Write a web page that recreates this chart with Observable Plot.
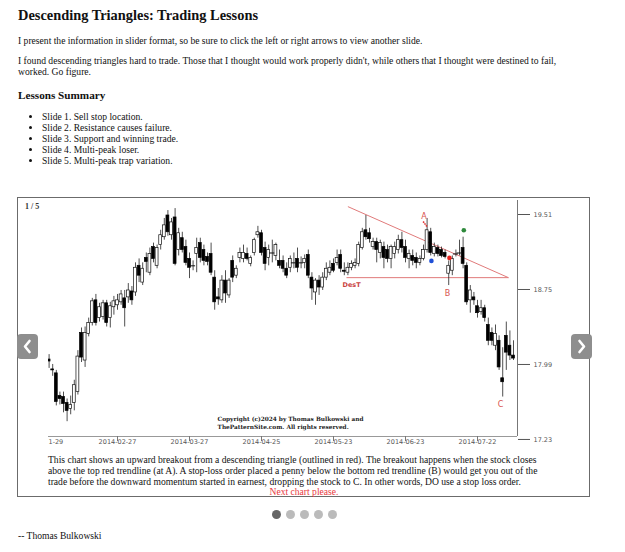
<!DOCTYPE html>
<html><head><meta charset="utf-8">
<script src="https://cdn.jsdelivr.net/npm/d3@7"></script>
<script src="https://cdn.jsdelivr.net/npm/@observablehq/plot@0.6"></script>
<style>
html,body{margin:0;padding:0;background:#fff;}
body{width:625px;height:552px;position:relative;font-family:"Liberation Serif","Times New Roman",serif;color:#111;overflow:hidden;}
.a{position:absolute;white-space:nowrap;}
.t{font-size:9.6px;line-height:11px;}
ul{position:absolute;left:18px;top:112.3px;margin:0;padding-left:24px;font-size:9.6px;line-height:10.9px;}
#frame{position:absolute;left:17px;top:197px;width:573px;height:300px;border:1.5px solid #6b6b6b;box-sizing:border-box;}
#chart{position:absolute;left:48px;top:198px;}
.btn{position:absolute;top:334px;width:21px;height:25px;background:#8e8e8e;border-radius:4px;}
.dot{position:absolute;top:509.5px;width:9px;height:9px;border-radius:50%;background:#bbb;}
</style></head><body>
<div class="a" style="left:18px;top:7.7px;font-size:14.4px;line-height:14.4px;font-weight:bold">Descending Triangles: Trading Lessons</div>
<div class="a t" style="left:18px;top:34.6px">I present the information in slider format, so be sure to click the left or right arrows to view another slide.</div>
<div class="a t" style="left:18px;top:54.6px">I found descending triangles hard to trade. Those that I thought would work properly didn't, while others that I thought were destined to fail,<br>worked. Go figure.</div>
<div class="a" style="left:18px;top:89.6px;font-size:11.2px;line-height:11.2px;font-weight:bold">Lessons Summary</div>
<ul>
<li>Slide 1. Sell stop location.</li>
<li>Slide 2. Resistance causes failure.</li>
<li>Slide 3. Support and winning trade.</li>
<li>Slide 4. Multi-peak loser.</li>
<li>Slide 5. Multi-peak trap variation.</li>
</ul>
<div id="frame"></div>
<div class="a" style="left:25px;top:203px;font-size:8px;line-height:8px;font-weight:bold;color:#333">1 / 5</div>
<div id="chart"></div>
<div class="btn" style="left:17px"><svg width="21" height="25"><polyline points="12.5,7 8,12.5 12.5,18" fill="none" stroke="#fff" stroke-width="2.6" stroke-linecap="round" stroke-linejoin="round"/></svg></div>
<div class="btn" style="left:571px"><svg width="21" height="25"><polyline points="8.5,7 13,12.5 8.5,18" fill="none" stroke="#fff" stroke-width="2.6" stroke-linecap="round" stroke-linejoin="round"/></svg></div>
<div class="a" style="left:48px;top:455px;font-size:9.6px;line-height:10.8px">This chart shows an upward breakout from a descending triangle (outlined in red). The breakout happens when the stock closes<br>above the top red trendline (at A). A stop-loss order placed a penny below the bottom red trendline (B) would get you out of the<br>trade before the downward momentum started in earnest, dropping the stock to C. In other words, DO use a stop loss order.</div>
<div class="a" style="left:204px;width:200px;text-align:center;top:487.4px;font-size:9.6px;line-height:10.8px;color:#e8383d">Next chart please.</div>
<div class="dot" style="left:271.5px;background:#666"></div>
<div class="dot" style="left:285.5px"></div>
<div class="dot" style="left:299.5px"></div>
<div class="dot" style="left:313.5px"></div>
<div class="dot" style="left:327.5px"></div>
<div class="a t" style="left:18px;top:530.3px">-- Thomas Bulkowski</div>
<script>
// Daily prices, bars for trading days 2014-01-30 .. 2014-08-05 (trading-day index 1..130 from 2014-01-29)
const firstIndex = 1;
const open = [18.04,17.94,17.90,17.67,17.66,17.60,17.54,17.60,17.71,18.31,18.03,18.30,18.41,18.64,18.46,18.47,18.61,18.46,18.57,18.59,18.62,18.66,18.67,18.73,18.72,18.99,18.82,19.07,18.92,19.18,18.99,19.20,19.28,19.50,19.30,19.48,19.15,19.27,19.18,19.06,18.99,19.11,19.22,19.15,19.08,19.11,18.87,18.67,18.64,18.84,18.69,19.04,18.89,19.07,19.06,19.11,19.01,19.12,19.30,19.32,19.17,19.07,19.12,19.09,19.04,19.04,18.96,18.97,19.02,19.06,19.02,19.02,19.10,18.87,18.72,18.84,18.77,18.87,18.92,19.01,19.02,19.10,18.94,18.92,18.97,18.99,19.01,19.17,19.35,19.32,19.18,19.23,19.12,19.18,19.15,19.06,19.11,19.15,19.25,19.18,19.06,19.09,19.07,19.02,19.06,19.15,19.33,19.11,19.17,19.15,19.12,18.91,18.94,19.11,19.12,19.17,18.99,18.64,18.67,18.58,18.52,18.56,18.39,18.31,18.18,18.23,17.85,18.28,18.18,18.08];
const high = [18.09,17.99,17.93,17.71,17.71,17.64,17.67,17.83,18.13,18.36,18.37,18.46,18.66,18.70,18.61,18.64,18.64,18.62,18.68,18.70,18.74,18.74,18.81,18.78,19.02,19.06,19.02,19.12,19.17,19.22,19.20,19.35,19.47,19.55,19.47,19.57,19.37,19.33,19.25,19.12,19.04,19.27,19.27,19.20,19.12,19.22,18.94,18.76,18.89,18.94,18.86,19.09,18.99,19.17,19.20,19.17,19.09,19.27,19.39,19.35,19.23,19.20,19.25,19.22,19.15,19.09,19.02,19.09,19.12,19.17,19.08,19.10,19.15,18.92,18.86,18.89,18.92,19.02,19.04,19.06,19.15,19.15,19.02,19.02,19.04,19.06,19.23,19.37,19.50,19.37,19.27,19.27,19.25,19.23,19.20,19.20,19.23,19.30,19.33,19.25,19.15,19.15,19.12,19.09,19.20,19.47,19.37,19.22,19.20,19.18,19.15,19.04,19.09,19.15,19.25,19.28,19.02,18.79,18.72,18.64,18.64,18.59,18.46,18.36,18.39,18.28,18.16,18.42,18.33,18.23];
const low = [17.95,17.87,17.57,17.58,17.50,17.41,17.48,17.52,17.68,18.01,17.96,18.27,18.38,18.38,18.42,18.44,18.37,18.36,18.49,18.54,18.59,18.37,18.61,18.59,18.68,18.82,18.79,18.92,18.89,19.02,18.96,19.15,19.25,19.29,19.25,18.99,19.09,19.12,18.99,18.86,18.94,18.92,19.02,18.99,18.99,18.89,18.54,18.59,18.61,18.61,18.66,18.82,18.86,19.02,19.02,19.04,18.98,19.09,19.27,19.09,18.94,18.99,19.02,19.04,18.96,18.92,18.86,18.92,18.96,18.92,18.96,18.96,18.86,18.64,18.59,18.69,18.74,18.84,18.89,18.92,18.99,18.92,18.89,18.89,18.94,18.96,18.98,19.15,19.25,19.22,19.15,19.02,19.06,18.96,19.02,18.96,19.06,19.11,19.12,19.02,18.96,18.99,18.96,18.99,19.04,19.12,19.09,19.08,19.08,19.07,19.06,18.79,18.89,19.08,19.09,18.96,18.59,18.51,18.59,18.46,18.49,18.42,18.18,18.18,18.13,17.93,17.66,17.93,18.03,18.03];
const close = [18.02,17.93,17.61,17.64,17.59,17.52,17.58,17.78,18.07,18.06,18.31,18.41,18.63,18.41,18.57,18.61,18.41,18.58,18.63,18.64,18.70,18.56,18.74,18.64,18.97,18.89,18.96,19.03,19.11,19.06,19.17,19.30,19.40,19.33,19.43,19.01,19.32,19.15,19.02,18.97,18.99,19.17,19.07,19.04,19.03,18.92,18.62,18.65,18.84,18.71,18.84,18.87,18.96,19.12,19.12,19.06,19.07,19.25,19.33,19.12,19.01,19.15,19.12,19.20,18.99,18.96,18.89,19.06,19.02,18.97,19.02,19.06,18.89,18.76,18.84,18.77,18.87,18.96,18.97,18.94,19.07,18.96,18.93,18.97,19.01,19.02,19.20,19.33,19.28,19.26,19.23,19.15,19.22,19.07,19.06,19.18,19.18,19.25,19.17,19.07,19.11,19.04,19.02,19.06,19.15,19.35,19.12,19.18,19.11,19.09,19.08,18.99,19.06,19.11,19.12,19.01,18.62,18.74,18.64,18.51,18.56,18.46,18.23,18.23,18.30,17.96,17.81,18.11,18.08,18.05];
const tickIndex = [20, 40, 60, 80, 100, 120];
const tickLabels = ["2014-02-27","2014-03-27","2014-04-25","2014-05-23","2014-06-23","2014-07-22"];
const firstTickIndex = [0];
const firstTickLabel = "1-29"; // visible tail of the clipped 2014-01-29 label
const priceTicks = [19.51, 18.75, 17.99, 17.23];
// Descending triangle trendlines (bar index, price)
const trendTop = [{i:84, p:19.59}, {i:128.6, p:18.87}];
const trendBottom = [{i:83.6, p:18.87}, {i:128.6, p:18.87}];
const markerDots = [{i:107.2, p:19.04, c:"#1f4fd6"}, {i:112.2, p:19.07, c:"#e8221c"}, {i:116.2, p:19.35, c:"#2f8a3c"}];
const letters = [{t:"A", i:105.1, p:19.49}, {t:"B", i:111.7, p:18.71}, {t:"C", i:126.4, p:17.58}];
const patternLabel = [{t:"DesT", i:82.5, p:18.80}];
const arrowA = [{i1:104.9, p1:19.44, i2:106.1, p2:19.38}];
const copyright = ["Copyright (c)2024 by Thomas Bulkowski and\nThePatternSite.com. All rights reserved."];
const copyPos = {i:47.8, p:17.465};

const bars = open.map((o, k) => ({i: k + firstIndex, o, h: high[k], l: low[k], c: close[k]}));
const xLo = 0.833, xHi = 131.11, yLo = 17.26, yHi = 19.652;
const hw = 0.4;
const red = "#e07a7a";

const chart = Plot.plot({
  width: 542, height: 257,
  marginLeft: 0, marginRight: 73, marginTop: 2, marginBottom: 19,
  x: {domain: [xLo, xHi]},
  y: {domain: [yLo, yHi]},
  style: {fontFamily: "DejaVu Sans", fontSize: "6.5px", color: "#555", background: "transparent", overflow: "hidden"},
  marks: [
    Plot.ruleY([yLo], {stroke: "#999", strokeWidth: 1}),
    Plot.ruleX([xHi], {stroke: "#777", strokeWidth: 1}),
    Plot.axisX({ticks: tickIndex, tickFormat: (d, k) => tickLabels[k], tickSize: 5, tickPadding: -2, label: null, stroke: "#777", fill: "#555"}),
    Plot.axisX({ticks: firstTickIndex, tickFormat: () => firstTickLabel, tickSize: 0, tickPadding: 3, textAnchor: "start", dx: 3, label: null, fill: "#555"}),
    Plot.axisY({anchor: "right", ticks: priceTicks, tickFormat: d => d.toFixed(2), tickSize: 12, tickPadding: 4, label: null, stroke: "#555", fill: "#555"}),
    Plot.link(trendTop.slice(0,1), {x1: "i", y1: "p", x2: () => trendTop[1].i, y2: () => trendTop[1].p, stroke: red, strokeWidth: 1}),
    Plot.link(trendBottom.slice(0,1), {x1: "i", y1: "p", x2: () => trendBottom[1].i, y2: () => trendBottom[1].p, stroke: red, strokeWidth: 1}),
    Plot.ruleX(bars, {x: "i", y1: "l", y2: "h", stroke: "#222", strokeWidth: 0.8}),
    Plot.rect(bars.filter(d => d.c > d.o), {x1: d => d.i - hw, x2: d => d.i + hw, y1: "o", y2: "c", fill: "#fff", stroke: "#111", strokeWidth: 0.7}),
    Plot.rect(bars.filter(d => d.c < d.o), {x1: d => d.i - hw, x2: d => d.i + hw, y1: "o", y2: "c", fill: "#000", stroke: "#000", strokeWidth: 0.7}),
    Plot.ruleY(bars.filter(d => d.c === d.o), {y: "c", x1: d => d.i - hw - 0.3, x2: d => d.i + hw + 0.3, stroke: "#111", strokeWidth: 1}),
    Plot.link(arrowA, {x1: "i1", y1: "p1", x2: "i2", y2: "p2", stroke: "#d33", strokeWidth: 1.6, strokeDasharray: "1.6,0.8"}),
    Plot.dot(markerDots, {x: "i", y: "p", r: 2.3, fill: d => d.c, stroke: "none"}),
    Plot.text(letters, {x: "i", y: "p", text: "t", fill: "#d9534f", fontSize: 8, fontFamily: "DejaVu Sans"}),
    Plot.text(patternLabel, {x: "i", y: "p", text: "t", fill: "#c9433f", fontSize: 6.5, fontWeight: "bold", textAnchor: "start", fontFamily: "DejaVu Sans"}),
    Plot.text(copyright, {x: () => copyPos.i, y: () => copyPos.p, text: d => d, textAnchor: "start", lineAnchor: "top", lineHeight: 1.25, fontSize: 5.8, fontWeight: "bold", fontFamily: "DejaVu Serif", fill: "#222"})
  ]
});
document.getElementById("chart").appendChild(chart);
</script>
</body></html>
